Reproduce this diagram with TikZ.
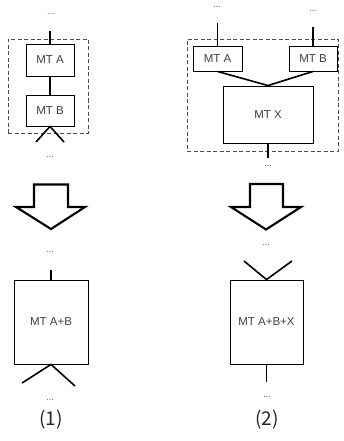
\documentclass[tikz,border=0pt]{standalone}
\usepackage{fontspec}
\setmainfont{Liberation Sans}
\newfontfamily\labfont{Noto Sans CJK JP}
\begin{document}
\begin{tikzpicture}[x=1pt,y=-1pt,
  mtbox/.style={draw=black,line width=0.9pt,inner sep=0pt,font=\fontsize{11.5}{13}\selectfont,text=black!75},
  dashbox/.style={draw=black!70,line width=0.9pt,dash pattern=on 4pt off 2.5pt,inner sep=0pt},
  conn/.style={line width=1.6pt,black},
  dots/.style={font=\fontsize{9}{10}\selectfont,text=black!65,inner sep=0pt},
  bigarrow/.style={draw=black,line width=2.1pt,line join=miter,fill=white},
  caplabel/.style={font=\labfont\fontsize{19}{21}\selectfont,text=black!85,inner sep=0pt}]
\useasboundingbox[fill=white] (0,0) rectangle (344,441);

% ---------- (1) top ----------
\node[dashbox,minimum width=80pt,minimum height=94pt] (dash1) at (48,86) {};
\node[dots] (d1a) at (51,14) {...};
\node[mtbox,minimum width=48pt,minimum height=32pt] (mta1) at (50,60) {MT A};
\node[mtbox,minimum width=48pt,minimum height=31pt] (mtb1) at (50,110.5) {MT B};
\node[dots] (d1b) at (50,157) {...};
\coordinate (t1) at (50,31);
\coordinate (v1l) at (36,142);
\coordinate (v1r) at (64,142);
\draw[conn] (t1) -- (mta1.north);
\draw[conn] (mta1.south) -- (mtb1.north);
\draw[conn] (v1l) -- (mtb1.south) -- (v1r);

% ---------- (2) top ----------
\node[dashbox,minimum width=151pt,minimum height=112pt] (dash2) at (262.5,95) {};
\node[dots] (d2a) at (217,7.5) {...};
\node[dots] (d2b) at (313,11) {...};
\node[mtbox,minimum width=49pt,minimum height=25pt] (mta2) at (217.5,58.5) {MT A};
\node[mtbox,minimum width=48pt,minimum height=25pt] (mtb2) at (313,58.5) {MT B};
\node[mtbox,minimum width=90pt,minimum height=57pt] (mtx) at (268,114.5) {MT X};
\node[dots] (d2c) at (268,166) {...};
\coordinate (t2a) at (217.5,23);
\coordinate (t2b) at (313,27);
\coordinate (b2) at (268,158);
\draw[conn] (t2a) -- (mta2.north);
\draw[conn] (t2b) -- (mtb2.north);
\draw[conn] (mta2.south) -- (mtx.north) -- (mtb2.south);
\draw[conn] (mtx.south) -- (b2);

% ---------- big arrows ----------
\draw[bigarrow] (34,184.5) -- (68,184.5) -- (68,207) -- (85,207) -- (51,229) -- (16,207) -- (34,207) -- cycle;
\draw[bigarrow] (250,184) -- (283,184) -- (283,207) -- (301,207) -- (266,229.5) -- (231,207) -- (250,207) -- cycle;

% ---------- (1) bottom ----------
\node[dots] (d3a) at (50,252) {...};
\node[mtbox,minimum width=74pt,minimum height=84pt] (ab) at (51,322) {MT A+B};
\node[dots] (d3b) at (50,400) {...};
\coordinate (t3) at (51,270);
\coordinate (v3l) at (22,383);
\coordinate (v3r) at (75,386);
\draw[conn] (t3) -- (ab.north);
\draw[conn] (v3l) -- (ab.south) -- (v3r);
\node[caplabel] (c1) at (51,420) {(1)};

% ---------- (2) bottom ----------
\node[dots] (d4a) at (266,245) {...};
\node[mtbox,minimum width=73pt,minimum height=84pt] (abx) at (266.5,322) {MT A+B+X};
\node[dots] (d4b) at (267,397) {...};
\coordinate (v4l) at (244,261);
\coordinate (v4r) at (292,261);
\coordinate (b4) at (266.5,382);
\draw[conn] (v4l) -- (abx.north) -- (v4r);
\draw[conn] (abx.south) -- (b4);
\node[caplabel] (c2) at (267,420) {(2)};
\end{tikzpicture}
\end{document}
